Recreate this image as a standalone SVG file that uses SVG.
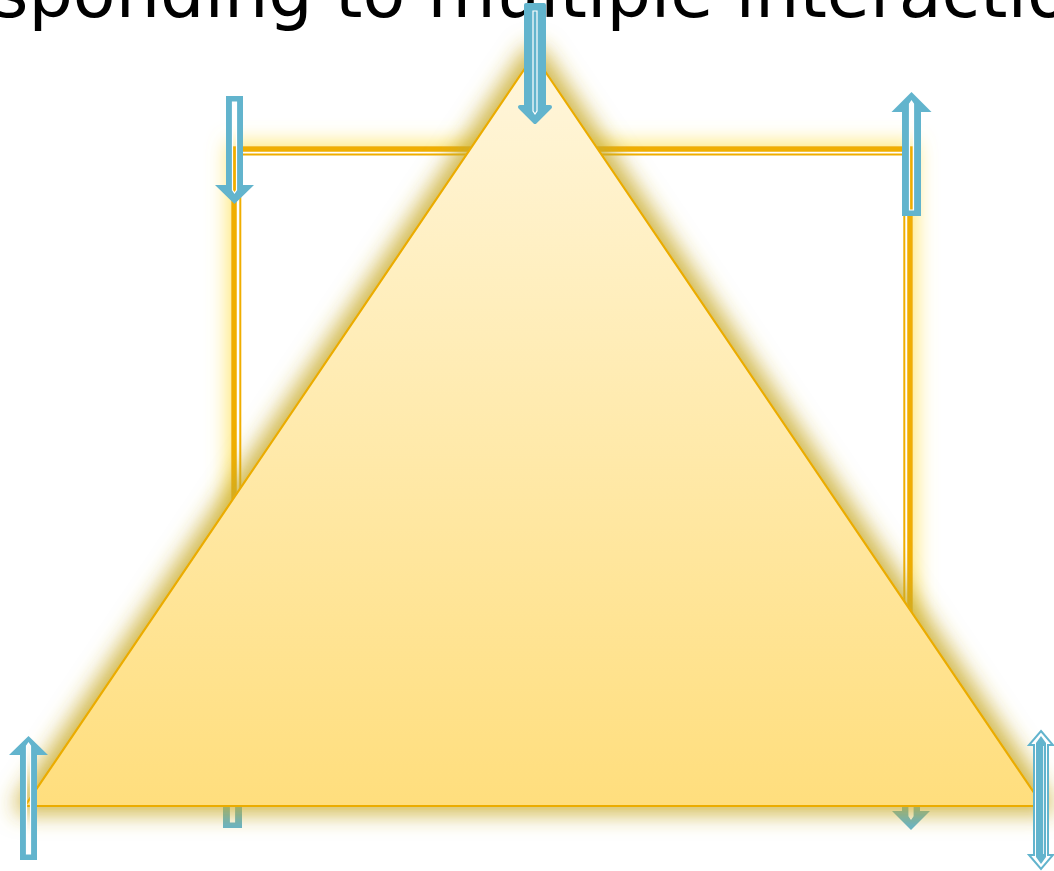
<svg xmlns="http://www.w3.org/2000/svg" width="1054" height="871" viewBox="0 0 1054 871">
<defs>
<linearGradient id="tri" x1="0" y1="0" x2="0" y2="1">
<stop offset="0" stop-color="#fff6dc"/>
<stop offset="1" stop-color="#ffde7d"/>
</linearGradient>
<filter id="rglow" x="-15%" y="-15%" width="130%" height="130%">
<feMorphology in="SourceAlpha" operator="dilate" radius="4" result="d"/>
<feGaussianBlur in="d" stdDeviation="10" result="b"/>
<feFlood flood-color="#ffe566" flood-opacity="0.9"/>
<feComposite in2="b" operator="in" result="g"/>
<feMerge><feMergeNode in="g"/><feMergeNode in="SourceGraphic"/></feMerge>
</filter>
<filter id="tglow" x="-15%" y="-15%" width="130%" height="130%">
<feMorphology in="SourceAlpha" operator="dilate" radius="7" result="d"/>
<feGaussianBlur in="d" stdDeviation="11" result="b"/>
<feFlood flood-color="#c9ab2a" flood-opacity="0.85"/>
<feComposite in2="b" operator="in" result="g"/>
<feMerge><feMergeNode in="g"/><feMergeNode in="SourceGraphic"/></feMerge>
</filter>
</defs>
<style>
.title{font-family:"DejaVu Sans",sans-serif;font-size:70px;fill:#000}
.ar{fill:#62b4cd;fill-rule:evenodd}
.ain{fill:none;stroke:#fff;stroke-width:1.2}
.ol{fill:#fff;stroke:#62b4cd;stroke-width:2}
</style>
<text class="title" x="527" y="17" text-anchor="middle">Responding to multiple interactions</text>
<g id="rect-node">
<rect x="234" y="149" width="676" height="621" fill="#fff" stroke="#f0ae00" stroke-width="5.5" filter="url(#rglow)"/>
<rect x="240.3" y="154.5" width="664" height="609.5" fill="none" stroke="#f0ae00" stroke-width="2"/>
</g>
<g id="connectors">
<g id="rect-arrows">
<path class="ar" d="M226,96 H243 V185 H254 L234.5,204 L215,185 H226 Z M232.5,102 H236.5 V190 L234.5,193 L232.5,190 Z"/>
<path class="ain" d="M232.5,102 H236.5 V190 L234.5,193 L232.5,190 Z"/>
<path class="ar" d="M902,216 H921 V112 H931.5 L911.5,92 L891.5,112 H902 Z M909.5,210 H913.5 V104 L911.5,101 L909.5,104 Z"/>
<path class="ain" d="M909.5,210 H913.5 V104 L911.5,101 L909.5,104 Z"/>
<path class="ar" d="M223,828 H242 V724 H252 L232.5,704 L213,724 H223 Z M230.5,822 H234.5 V716 L232.5,713 L230.5,716 Z"/>
<path class="ain" d="M230.5,822 H234.5 V716 L232.5,713 L230.5,716 Z"/>
<path class="ar" d="M902,708 H920 V811 H930 L911,830 L892,811 H902 Z M909,714 H913 V816 L911,819 L909,816 Z"/>
<path class="ain" d="M909,714 H913 V816 L911,819 L909,816 Z"/>
</g>
</g>
<g id="triangle-node">
<path d="M534,55 L1043,806 L25,806 Z" fill="url(#tri)" stroke="#ebac00" stroke-width="2.2" stroke-linejoin="miter" filter="url(#tglow)"/>
</g>
<g id="connectors-top">
<path class="ar" d="M526,5 H544 V107 H550 L535,122 L520,107 H526 Z M533,11 H537 V111 L535,114 L533,111 Z" stroke="#62b4cd" stroke-width="4" stroke-linejoin="round"/>
<path class="ain" d="M533,11 H537 V111 L535,114 L533,111 Z"/>
<path class="ar" d="M20,860 H37 V755 H48 L28.5,736 L9,755 H20 Z M26.5,854 H30.5 V746 L28.5,743 L26.5,746 Z"/>
<path class="ain" d="M26.5,854 H30.5 V746 L28.5,743 L26.5,746 Z" stroke="#fffbe8"/>
<path class="ol" d="M1041,731 L1053,745 H1048 V855 H1053 L1041,869 L1029,855 H1034 V745 H1029 Z"/>
<path d="M1041,736 L1046,743 V857 L1041,864 L1036,857 V743 Z" fill="#62b4cd"/>
<path d="M1043.5,746 V854" stroke="#fff" stroke-width="0.8" fill="none"/>
</g>
</svg>
